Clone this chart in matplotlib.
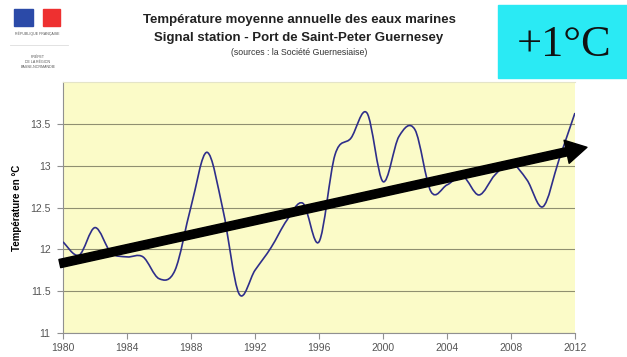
import numpy as np
import matplotlib.pyplot as plt
from matplotlib.path import Path
from matplotlib.patches import PathPatch, Rectangle

plt.rcParams['font.family'] = ['Liberation Sans', 'DejaVu Sans']

# annual mean sea temperature, Guernsey signal station
years = np.arange(1980, 2013)
temps = [12.09, 11.93, 12.26, 11.96, 11.91, 11.91, 11.65, 11.75, 12.51, 13.16,
         12.47, 11.47, 11.75, 12.02, 12.35, 12.55, 12.09, 13.13, 13.33, 13.63,
         12.81, 13.35, 13.43, 12.69, 12.77, 12.87, 12.65, 12.89, 13.03, 12.83,
         12.51, 13.07, 13.63]

# trend arrow (start / end)
trend_x = [1979.8, 2012.75]
trend_y = [11.83, 13.22]

yticks = [11, 11.5, 12, 12.5, 13, 13.5]
ytick_labels = ['11', '11.5', '12', '12.5', '13', '13.5']
xticks = np.arange(1980, 2013, 4)


def smooth_path(x, y):
    # bezier segments the way a spreadsheet "smoothed line" draws them
    p = np.column_stack([x, y]).astype(float)
    n = len(p)
    verts = [p[0]]
    codes = [Path.MOVETO]
    for i in range(n - 1):
        p0 = p[i - 1] if i > 0 else p[i]
        p3 = p[i + 2] if i + 2 < n else p[i + 1]
        c1 = p[i] + (p[i + 1] - p0) / 6
        c2 = p[i + 1] - (p3 - p[i]) / 6
        verts += [c1, c2, p[i + 1]]
        codes += [Path.CURVE4] * 3
    return Path(verts, codes)


fig = plt.figure(figsize=(6.27, 3.57), dpi=100)
ax = fig.add_axes([0.1005, 0.0672, 0.8165, 0.703])
ax.set_facecolor('#fbfbc8')

ax.add_patch(PathPatch(smooth_path(years, temps), fill=False,
                       edgecolor='#2e2e8a', lw=1.2, zorder=3))

ax.set_xlim(1980, 2012)
ax.set_ylim(11, 14)
ax.set_yticks(yticks)
ax.set_yticklabels(ytick_labels)
ax.set_xticks(xticks)
ax.grid(axis='y', color='#8f8f70', lw=0.8)
ax.tick_params(colors='#909090', labelcolor='#555555', labelsize=7.5,
               length=4, width=0.8)
ax.tick_params(axis='y', pad=5)
ax.spines['right'].set_visible(False)
ax.spines['top'].set_color('#e4e4c8')
for side in ['left', 'bottom']:
    ax.spines[side].set_color('#909090')
ax.set_ylabel('Température en °C', fontsize=7, fontweight='bold', labelpad=6)

ax.annotate('', xy=(trend_x[1], trend_y[1]), xytext=(trend_x[0], trend_y[0]),
            arrowprops=dict(width=6, headwidth=17, headlength=15,
                            color='black', shrink=0),
            annotation_clip=False, zorder=5)

# headings
fig.text(0.477, 0.944, 'Température moyenne annuelle des eaux marines',
         ha='center', va='center', fontsize=9.5, fontweight='bold',
         color='#222222')
fig.text(0.477, 0.893, 'Signal station - Port de Saint-Peter Guernesey',
         ha='center', va='center', fontsize=9.5, fontweight='bold',
         color='#222222')
fig.text(0.477, 0.853, '(sources : la Société Guernesiaise)',
         ha='center', va='center', fontsize=6.3, color='#333333')

# +1°C box
fig.patches.append(Rectangle((498 / 627, 1 - 78 / 357), 129 / 627, 73 / 357,
                             transform=fig.transFigure, color='#2aeaf4',
                             zorder=0))
fig.text(0.9, 0.875, '+1°C', ha='center', va='center', fontsize=32,
         family=['Liberation Serif', 'DejaVu Serif'], color='#111111')

# republic logo
fig.patches.append(Rectangle((14 / 627, 1 - 26 / 357), 19 / 627, 17 / 357,
                             transform=fig.transFigure, color='#2b4aa8'))
fig.patches.append(Rectangle((43 / 627, 1 - 26 / 357), 17 / 627, 17 / 357,
                             transform=fig.transFigure, color='#ee3030'))
fig.text(37 / 627, 1 - 34 / 357, 'RÉPUBLIQUE FRANÇAISE', ha='center',
         va='center', fontsize=2.6, color='#555555')
fig.add_artist(plt.Line2D([10 / 627, 68 / 627], [1 - 45 / 357, 1 - 45 / 357],
                          color='#dddddd', lw=0.6))
fig.text(38 / 627, 1 - 62 / 357, 'PRÉFET\nDE LA RÉGION\nBASSE-NORMANDIE',
         ha='center', va='center', fontsize=2.6, color='#555555',
         linespacing=1.3)

fig.savefig('out.png', dpi=100)
